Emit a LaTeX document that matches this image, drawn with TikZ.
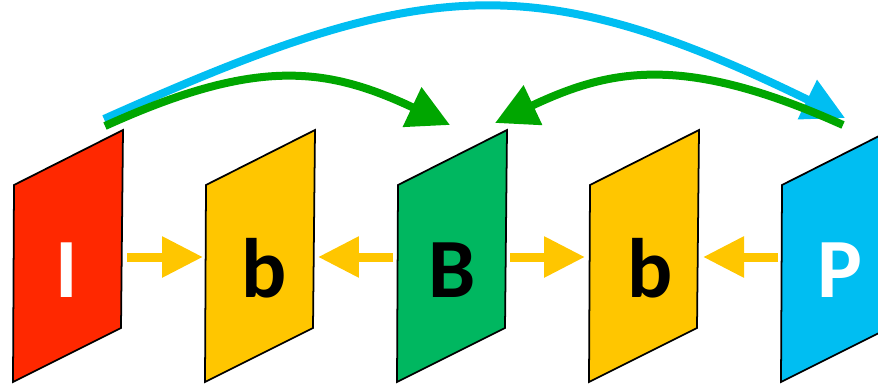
\documentclass[tikz,border=0pt]{standalone}
\usepackage{fontspec}
\setsansfont{Carlito}
\usepackage{tikz}
\usetikzlibrary{arrows.meta}

\definecolor{fRed}{RGB}{255,40,0}
\definecolor{fYellow}{RGB}{255,198,0}
\definecolor{fGreen}{RGB}{0,183,96}
\definecolor{fBlue}{RGB}{0,190,242}
\definecolor{aGreen}{RGB}{0,166,0}

\begin{document}
\begin{tikzpicture}[x=0.02cm,y=-0.02cm,line width=1pt,
  frame/.style={draw=black,line join=miter},
  lbl/.style={anchor=base,font=\fontsize{48}{48}\sffamily\bfseries\selectfont},
  yarrow/.style={draw=fYellow,line width=0.18cm,-{Triangle[length=0.82cm,width=0.78cm]}},
  jump/.style={line width=0.16cm,-{Triangle[length=0.84cm,width=0.84cm]}}]
\useasboundingbox (0,0) rectangle (878,385);
\clip (0,0) rectangle (878,385);

% frames
\draw[frame,fill=fRed]    (14,185)  -- ++(109,-55) -- ++(-2,198) -- ++(-108,54) -- cycle;
\draw[frame,fill=fYellow] (206,185) -- ++(109,-55) -- ++(-2,198) -- ++(-108,54) -- cycle;
\draw[frame,fill=fGreen]  (398,185) -- ++(109,-55) -- ++(-2,198) -- ++(-108,54) -- cycle;
\draw[frame,fill=fYellow] (590,185) -- ++(109,-55) -- ++(-2,198) -- ++(-108,54) -- cycle;
\draw[frame,fill=fBlue]   (782,185) -- ++(109,-55) -- ++(-2,198) -- ++(-108,54) -- cycle;

\node[lbl,text=white] (I)  at (67,297)  {I};
\node[lbl]            (b1) at (264,297) {b};
\node[lbl]            (B)  at (452,297) {B};
\node[lbl]            (b2) at (650,297) {b};
\node[lbl,text=white] (P)  at (840,297) {P};

% ends of the arrows
\coordinate (I-e)  at (127,257);
\coordinate (b1-w) at (203,257);
\coordinate (b1-e) at (318,257);
\coordinate (B-w)  at (393,257);
\coordinate (B-e)  at (510,257);
\coordinate (b2-w) at (585,257);
\coordinate (b2-e) at (703,257);
\coordinate (P-w)  at (778,257);

\draw[yarrow] (I-e)  -- (b1-w);
\draw[yarrow] (B-w)  -- (b1-e);
\draw[yarrow] (B-e)  -- (b2-w);
\draw[yarrow] (P-w)  -- (b2-e);

\coordinate (I-top)  at (104,119);
\coordinate (I-top2) at (105,126);
\coordinate (B-tl)   at (450,125);
\coordinate (B-tr)   at (495,123);
\coordinate (P-top)  at (845,118);
\coordinate (P-top2) at (843,125);

\draw[jump,draw=fBlue]  (I-top)..controls (419,-22) and (530,-36)..(P-top);
\draw[jump,draw=aGreen] (I-top2)..controls (255,58) and (325,66)..(B-tl);
\draw[jump,draw=aGreen] (P-top2)..controls (683,53) and (610,69)..(B-tr);

\end{tikzpicture}
\end{document}
